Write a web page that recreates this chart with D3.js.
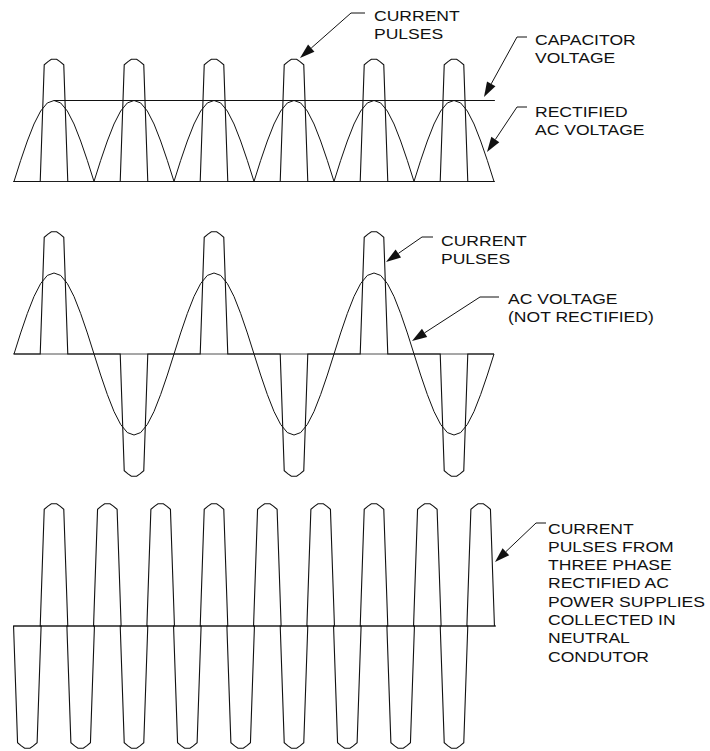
<!DOCTYPE html>
<html>
<head>
<meta charset="utf-8">
<script src="https://cdn.jsdelivr.net/npm/d3@7"></script>
<style>
  body { margin: 0; background: #fff; }
  text { font-family: "Liberation Sans", Arial, sans-serif; font-size: 15px; fill: #111; }
</style>
</head>
<body>
<div id="chart"></div>
<script>
var width = 710, height = 751;

// one half cycle of the voltage, read at 15 degree steps (peak = 1)
var halfWave = [0, 0.26, 0.5, 0.71, 0.87, 0.97, 1, 0.97, 0.87, 0.71, 0.5, 0.26, 0];
var halfWaveStep = 15;

// shape of one current pulse: offset from centre (degrees) and height
var pulseOffsets = [-31, -22, -13.5, -6, 6, 13.5, 22, 31];
var pulseHeights = [0, 1.44, 1.48, 1.51, 1.51, 1.48, 1.44, 0];

// top panel: rectified AC + capacitor
var rectHalfStarts = [0, 180, 360, 540, 720, 900];
var rectPulseCenters = [90, 270, 450, 630, 810, 990];
var capVoltage = 1.0;

// middle panel: AC not rectified
var acHalfStarts = [0, 180, 360, 540, 720, 900];
var acHalfSigns = [1, -1, 1, -1, 1, -1];
var acPulseCenters = [90, 270, 450, 630, 810, 990];
var acPulseSigns = [1, -1, 1, -1, 1, -1];

// bottom panel: three phase pulses in neutral
var neutralPulseCenters = [30, 90, 150, 210, 270, 330, 390, 450, 510, 570, 630, 690, 750, 810, 870, 930, 990, 1050];
var neutralPulseSigns = [-1, 1, -1, 1, -1, 1, -1, 1, -1, 1, -1, 1, -1, 1, -1, 1, -1, 1];

var labelTexts = [
  ["CURRENT", "PULSES"],
  ["CAPACITOR", "VOLTAGE"],
  ["RECTIFIED", "AC VOLTAGE"],
  ["CURRENT", "PULSES"],
  ["AC VOLTAGE", "(NOT RECTIFIED)"],
  ["CURRENT", "PULSES FROM", "THREE PHASE", "RECTIFIED AC", "POWER SUPPLIES", "COLLECTED IN", "NEUTRAL", "CONDUTOR"]
];

var svg = d3.select("div#chart").append("svg")
    .attr("width", width)
    .attr("height", height);

var xScale = d3.scaleLinear().domain([0, 1080]).range([14, 494]);

function panelY(base){
    return d3.scaleLinear().domain([-1.5, 1.5]).range([base + 121.5, base - 121.5]);
}

var line = function(yScale){
    return d3.line()
        .x(function(d){ return xScale(d[0]); })
        .y(function(d){ return yScale(d[1]); });
};

function halfPoints(start, sign){
    return halfWave.map(function(v, i){ return [start + i*halfWaveStep, sign*v]; });
}

function pulsePoints(center, sign){
    return pulseOffsets.map(function(o, i){ return [center + o, sign*pulseHeights[i]]; });
}

function currentWave(centers, signs){
    var pts = [[0, 0]];
    centers.forEach(function(c, i){ pts = pts.concat(pulsePoints(c, signs ? signs[i] : 1)); });
    pts.push([1080, 0]);
    return pts;
}

function drawPanel(base, axisFrom, axisTo, voltageHalves, pulses, axisW){
    var y = panelY(base);
    var g = svg.append("g");
    g.append("line")
        .attr("x1", xScale(axisFrom)).attr("x2", xScale(axisTo))
        .attr("y1", y(0)).attr("y2", y(0))
        .attr("stroke", "#222").attr("stroke-width", axisW);
    g.selectAll("path.v")
        .data(voltageHalves)
        .enter()
        .append("path")
        .attr("class", "v")
        .attr("d", line(y))
        .attr("fill", "none")
        .attr("stroke", "#111")
        .attr("stroke-width", 1);
    g.append("path")
        .attr("d", line(y)(pulses))
        .attr("fill", "none")
        .attr("stroke", "#111")
        .attr("stroke-width", 1.1);
    return y;
}

// top
var yTop = drawPanel(181.5, -2, 1082,
    rectHalfStarts.map(function(s){ return halfPoints(s, 1); }),
    currentWave(rectPulseCenters), 1.2);
svg.append("line")
    .attr("x1", xScale(90)).attr("x2", xScale(1082))
    .attr("y1", yTop(capVoltage)).attr("y2", yTop(capVoltage))
    .attr("stroke", "#111").attr("stroke-width", 1);

// middle
drawPanel(354, -2, 1080,
    acHalfStarts.map(function(s, i){ return halfPoints(s, acHalfSigns[i]); }),
    currentWave(acPulseCenters, acPulseSigns), 0.8);

// bottom
var bottomWave = [];
neutralPulseCenters.forEach(function(c, i){ bottomWave = bottomWave.concat(pulsePoints(c, neutralPulseSigns[i])); });
drawPanel(626, -2, 1084, [], bottomWave, 1.3);

// annotations: stub end, elbow, arrow tip, text position
var notes = [
    {stub: 365, elbow: [351, 13], tip: [300, 58], tx: 374, ty: 21},
    {stub: 527, elbow: [517, 37], tip: [484, 97], tx: 535, ty: 44.5},
    {stub: 527, elbow: [517, 107], tip: [487, 152], tx: 535, ty: 116.5},
    {stub: 433, elbow: [422, 237], tip: [386, 262], tx: 441, ty: 246},
    {stub: 499, elbow: [480, 297], tip: [412, 341], tx: 508, ty: 304},
    {stub: 546, elbow: [536, 523], tip: [495, 562], tx: 548, ty: 533.5}
];
var lineGap = 18.3;

notes.forEach(function(n, i){
    var dx = n.tip[0] - n.elbow[0], dy = n.tip[1] - n.elbow[1];
    var len = Math.sqrt(dx*dx + dy*dy);
    var ux = dx/len, uy = dy/len;
    var L = 15, W = 4.8;
    var bx = n.tip[0] - ux*L, by = n.tip[1] - uy*L;
    svg.append("path")
        .attr("d", "M" + n.stub + "," + n.elbow[1] + "L" + n.elbow[0] + "," + n.elbow[1] + "L" + bx + "," + by)
        .attr("fill", "none").attr("stroke", "#111").attr("stroke-width", 1);
    svg.append("path")
        .attr("d", "M" + n.tip[0] + "," + n.tip[1] +
            "L" + (bx - uy*W) + "," + (by + ux*W) +
            "L" + (bx + uy*W) + "," + (by - ux*W) + "Z")
        .attr("fill", "#111");
    var t = svg.append("g");
    labelTexts[i].forEach(function(s, k){
        t.append("text")
            .attr("transform", "translate(" + n.tx + "," + (n.ty + k*lineGap) + ") scale(1.17,1)")
            .text(s);
    });
});
</script>
</body>
</html>
